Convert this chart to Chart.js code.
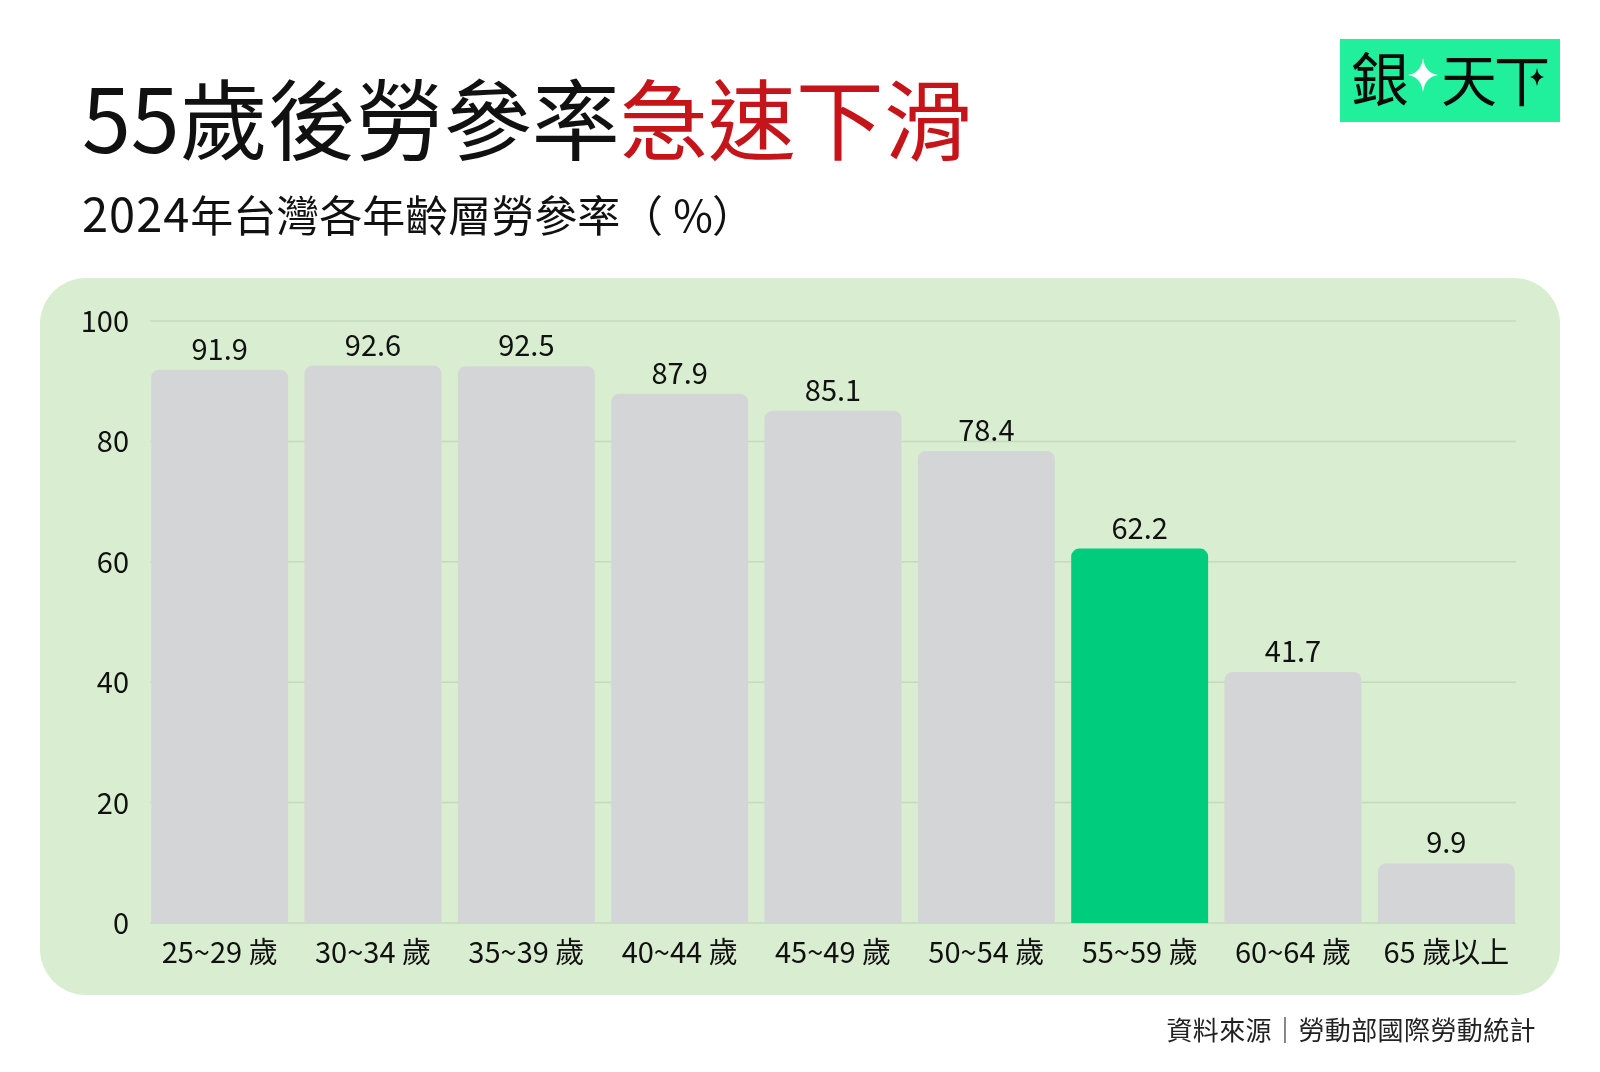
<!DOCTYPE html>
<html>
<head>
<meta charset="utf-8">
<script src="https://cdn.jsdelivr.net/npm/chart.js@4"></script>
<style>
  html, body { margin: 0; padding: 0; background: #fff; }
  #page { position: relative; width: 1600px; height: 1072px; overflow: hidden; }
  #panel { position: absolute; left: 40px; top: 278px; width: 1520px; height: 717px;
           background: #d9edd0; border-radius: 46px; }
  #chart { position: absolute; left: 40px; top: 278px; }
  svg { position: absolute; left: 0; top: 0; }
  text { font-family: 'Noto Sans CJK TC', sans-serif; }
</style>
</head>
<body>
<div id="page">
  <div id="panel"></div>
  <canvas id="chart" width="1520" height="717"></canvas>
  <svg width="1600" height="1072">
    <text x="82" y="153" font-size="88" font-weight="400" fill="#111">55歲後勞參率<tspan fill="#c5141a">急速下滑</tspan></text>
    <text x="82" y="232" font-size="43" fill="#111"><tspan font-size="47" letter-spacing="1">2024</tspan>年台灣各年齡層勞參率</text>
    <text x="620" y="232" font-size="43" fill="#111">（</text>
    <text x="693" y="232" font-size="43" fill="#111" text-anchor="middle">%</text>
    <text x="712" y="232" font-size="43" fill="#111">）</text>
    <text x="1536" y="1040" font-size="26" font-weight="400" fill="#222" text-anchor="end" letter-spacing="0.4">資料來源｜勞動部國際勞動統計</text>
    <rect x="1340" y="39" width="220" height="83" fill="#20ef9b"></rect>
    <text x="1351" y="101" font-size="58" fill="#0a0a0a">銀</text>
    <text x="1441" y="101" font-size="56" fill="#0a0a0a">天</text>
    <text x="1494" y="101" font-size="56" fill="#0a0a0a">丅</text>
    <path d="M1423,58 Q1425,73 1438,75 Q1425,77 1423,92 Q1421,77 1408,75 Q1421,73 1423,58 Z" fill="#fff"></path>
    <path d="M1537,68 Q1538,76 1544,77 Q1538,78 1537,86 Q1536,78 1530,77 Q1536,76 1537,68 Z" fill="#0a0a0a"></path>
  </svg>
</div>
<script>
// 2024 labour participation rate by age group (%)
const ageGroups = ["25~29 歲", "30~34 歲", "35~39 歲", "40~44 歲", "45~49 歲", "50~54 歲", "55~59 歲", "60~64 歲", "65 歲以上"];
const participationRates = [91.9, 92.6, 92.5, 87.9, 85.1, 78.4, 62.2, 41.7, 9.9];
const yTicks = [0, 20, 40, 60, 80, 100];
const highlightGroup = "55~59 歲";

const barColors = ageGroups.map(g => g === highlightGroup ? "#00cc7e" : "#d4d5d7");

// horizontal grid lines, only as wide as the row of bars
const shortGrid = {
  id: "shortGrid",
  beforeDatasetsDraw(chart) {
    const ctx = chart.ctx;
    const bars = chart.getDatasetMeta(0).data;
    const first = bars[0], last = bars[bars.length - 1];
    const x0 = first.x - first.width / 2 - 1;
    const x1 = last.x + last.width / 2 + 1;
    ctx.save();
    ctx.strokeStyle = "#c4dabc";
    ctx.lineWidth = 1.5;
    yTicks.forEach(v => {
      const y = chart.scales.y.getPixelForValue(v);
      ctx.beginPath();
      ctx.moveTo(x0, y);
      ctx.lineTo(x1, y);
      ctx.stroke();
    });
    ctx.restore();
  }
};

// draws the value above each bar
const valueLabels = {
  id: "valueLabels",
  afterDatasetsDraw(chart) {
    const ctx = chart.ctx;
    const meta = chart.getDatasetMeta(0);
    ctx.save();
    ctx.font = "29px 'Noto Sans CJK TC', sans-serif";
    ctx.fillStyle = "#111";
    ctx.textAlign = "center";
    ctx.textBaseline = "alphabetic";
    meta.data.forEach((bar, i) => {
      ctx.fillText(participationRates[i].toFixed(1), bar.x, bar.y - 10);
    });
    ctx.restore();
  }
};

Chart.defaults.font.family = "'Noto Sans CJK TC', sans-serif";
Chart.defaults.font.size = 29;
Chart.defaults.color = "#111";

new Chart(document.getElementById("chart"), {
  type: "bar",
  data: {
    labels: ageGroups,
    datasets: [{
      data: participationRates,
      backgroundColor: barColors,
      borderRadius: 8,
      borderSkipped: "start",
      barPercentage: 0.893,
      categoryPercentage: 1.0
    }]
  },
  options: {
    responsive: false,
    devicePixelRatio: 1,
    animation: false,
    layout: { padding: { top: 43, right: 37, bottom: 0, left: 0 } },
    plugins: {
      legend: { display: false },
      tooltip: { enabled: false }
    },
    scales: {
      x: {
        grid: { display: false },
        border: { display: false },
        ticks: { padding: 4 },
        afterFit: (scale) => { scale.height = 72; }
      },
      y: {
        min: 0,
        max: 100,
        afterBuildTicks: (scale) => { scale.ticks = yTicks.map(v => ({ value: v })); },
        grid: { display: false, drawTicks: false },
        border: { display: false },
        ticks: { padding: 14 },
        afterFit: (scale) => { scale.width = 103; }
      }
    }
  },
  plugins: [shortGrid, valueLabels]
});
</script>
</body>
</html>
